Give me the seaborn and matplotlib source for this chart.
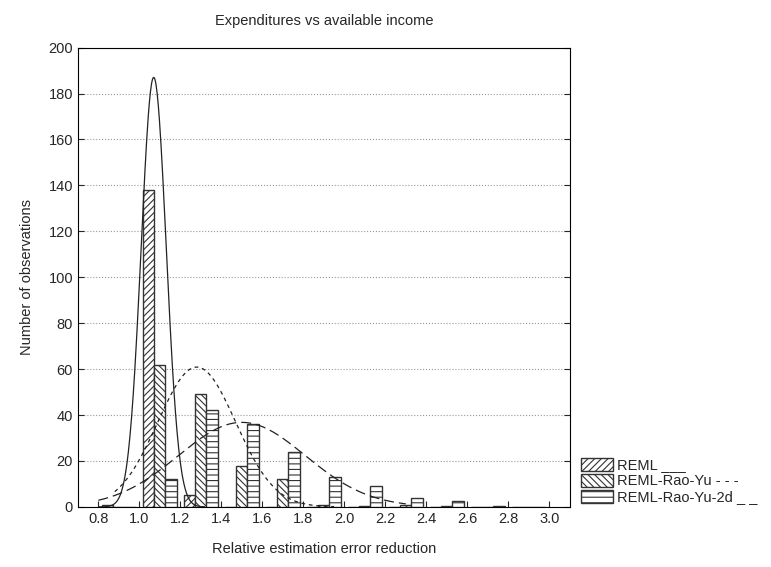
import numpy as np
import pandas as pd
import matplotlib
matplotlib.use("Agg")
import matplotlib.pyplot as plt
import seaborn as sns

bin_centers = [0.9, 1.1, 1.3, 1.5, 1.7, 1.9, 2.1, 2.3, 2.5, 2.7, 2.9]
reml = [1, 138, 5, 0, 0, 0, 0, 0, 0, 0, 0]
rao_yu = [0, 62, 49, 18, 12, 1, 0.5, 1, 0.5, 0, 0]
rao_yu_2d = [0, 12, 42, 36, 24, 13, 9, 4, 2.5, 0.5, 0]
series = ["REML ___", "REML-Rao-Yu - - -", "REML-Rao-Yu-2d _ _"]
hatches = ["/////", "\\\\\\\\\\", "---"]

# fitted normal curves: mean, sd, count, range
fits = [(1.07, 0.061, 143, 0.8, 1.32, (0, ())),
        (1.28, 0.19, 145, 0.88, 1.95, (0, (3, 3))),
        (1.50, 0.31, 143, 0.8, 2.3, (0, (8, 4)))]

sns.set_style("white")
plt.rcParams["font.family"] = ["Liberation Sans", "DejaVu Sans"]
plt.rcParams["hatch.linewidth"] = 0.8

fig = plt.figure(figsize=(7.71, 5.67), dpi=100)
ax = fig.add_axes([0.101, 0.106, 0.638, 0.810])

df = pd.DataFrame({"x": bin_centers * 3, "n": reml + rao_yu + rao_yu_2d,
                   "s": [s for s in series for _ in bin_centers]})
w = 0.055
for i, s in enumerate(series):
    d = df[df.s == s]
    ax.bar(d.x + (i - 1) * w, d.n, width=w, color="white", edgecolor="#333333",
           hatch=hatches[i], linewidth=1.0, label=s, zorder=3)

for mu, sd, n, lo, hi, ls in fits:
    xs = np.linspace(lo, hi, 200)
    ys = n * 0.2 / (sd * np.sqrt(2 * np.pi)) * np.exp(-0.5 * ((xs - mu) / sd) ** 2)
    sns.lineplot(x=xs, y=ys, ax=ax, color="#222222", linewidth=0.9, linestyle=ls, zorder=4)

ax.set_xlim(0.7, 3.1)
ax.set_ylim(0, 200)
ax.set_xticks(np.arange(0.8, 3.01, 0.2))
ax.set_xticklabels([f"{v:.1f}" for v in np.arange(0.8, 3.01, 0.2)])
ax.set_yticks(range(0, 201, 20))
ax.yaxis.grid(True, linestyle=":", color="#999999", linewidth=0.8, zorder=0)
for sp in ax.spines.values():
    sp.set_color("black")
ax.tick_params(direction="in", length=4, labelsize=10.5, left=True, bottom=True, right=True, top=False)
ax.set_title("Expenditures vs available income", fontsize=10.5, pad=16)
ax.set_xlabel("Relative estimation error reduction", fontsize=10.5, labelpad=12)
ax.set_ylabel("Number of observations", fontsize=10.5, labelpad=10)
ax.legend(loc="upper left", bbox_to_anchor=(1.01, 0.12), frameon=False, fontsize=10.5,
          handlelength=2.2, handleheight=1.0, handletextpad=0.3, borderaxespad=0, labelspacing=0.1)

fig.savefig("out.png", dpi=100)
